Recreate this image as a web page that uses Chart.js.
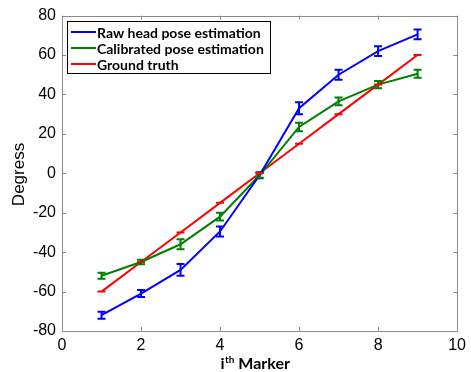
<!DOCTYPE html>
<html><head><meta charset="utf-8">
<script src="https://cdn.jsdelivr.net/npm/chart.js@4"></script>
<style>html,body{margin:0;padding:0;background:#fff}canvas{display:block}</style>
</head><body>
<canvas id="c" width="471" height="372"></canvas>
<script>
const markers = [1, 2, 3, 4, 5, 6, 7, 8, 9];
const rawHead = [-72, -61, -49, -29.5, -1, 33, 50, 62, 70.5];
const rawErr = [1.8, 1.8, 3, 2.5, 1.5, 3, 2.5, 2.5, 2.5];
const calibrated = [-52, -45, -36, -22, -1, 23.5, 36.5, 45, 50.5];
const calErr = [1.5, 1.2, 2.5, 2, 1.2, 2.2, 2, 1.8, 2];
const groundTruth = [-60, -45, -30, -15, 0, 15, 30, 45, 60];
const gtErr = [0, 0, 0, 0, 0, 0, 0, 0, 0];
const xTicks = [0, 2, 4, 6, 8, 10];
const yTicks = [-80, -60, -40, -20, 0, 20, 40, 60, 80];
const seriesNames = ['Raw head pose estimation', 'Calibrated pose estimation', 'Ground truth'];
const seriesColors = ['#0000ff', '#008000', '#ff0000'];
const yTitle = 'Degress';
const xTitle = ['i', 'th', ' Marker'];

const pts = arr => markers.map((m, i) => ({x: m, y: arr[i]}));
const errs = [rawErr, calErr, gtErr];

const errorBars = {
  id: 'errorBars',
  afterDatasetsDraw(chart) {
    const ctx = chart.ctx, xs = chart.scales.x, ys = chart.scales.y;
    chart.data.datasets.forEach((ds, di) => {
      ctx.save();
      ctx.strokeStyle = ds.borderColor; ctx.lineWidth = 2;
      ds.data.forEach((p, i) => {
        const e = errs[di][i];
        const px = xs.getPixelForValue(p.x);
        const top = ys.getPixelForValue(p.y + e), bot = ys.getPixelForValue(p.y - e);
        ctx.beginPath();
        ctx.moveTo(px, top); ctx.lineTo(px, bot);
        ctx.moveTo(px - 4, top); ctx.lineTo(px + 4, top);
        ctx.moveTo(px - 4, bot); ctx.lineTo(px + 4, bot);
        ctx.stroke();
      });
      ctx.restore();
    });
  }
};

const boxAndLegend = {
  id: 'boxAndLegend',
  afterDraw(chart) {
    const ctx = chart.ctx, a = chart.chartArea, xs = chart.scales.x, ys = chart.scales.y;
    ctx.save();
    ctx.strokeStyle = '#8a8a8a'; ctx.lineWidth = 1;
    ctx.strokeRect(Math.round(a.left) + 0.5, Math.round(a.top) + 0.5, Math.round(a.right - a.left), Math.round(a.bottom - a.top));
    ctx.beginPath();
    xTicks.forEach(t => {
      const px = Math.round(xs.getPixelForValue(t)) + 0.5;
      ctx.moveTo(px, a.bottom); ctx.lineTo(px, a.bottom - 4);
      ctx.moveTo(px, a.top); ctx.lineTo(px, a.top + 4);
    });
    yTicks.forEach(t => {
      const py = Math.round(ys.getPixelForValue(t)) + 0.5;
      ctx.moveTo(a.left, py); ctx.lineTo(a.left + 4, py);
      ctx.moveTo(a.right, py); ctx.lineTo(a.right - 4, py);
    });
    ctx.stroke();
    // legend
    const lx = 67, ly = 21, lw = 203, lh = 52;
    ctx.fillStyle = '#fff';
    ctx.fillRect(lx, ly, lw, lh);
    ctx.strokeStyle = '#000'; ctx.lineWidth = 1;
    ctx.strokeRect(lx + 0.5, ly + 0.5, lw, lh);
    ctx.font = 'bold 14px Lato, "Open Sans", sans-serif';
    ctx.textBaseline = 'middle'; ctx.fillStyle = '#000';
    seriesNames.forEach((n, i) => {
      const y = ly + 11 + i * 16;
      ctx.strokeStyle = seriesColors[i]; ctx.lineWidth = 2;
      ctx.beginPath(); ctx.moveTo(lx + 4, y); ctx.lineTo(lx + 29, y); ctx.stroke();
      ctx.fillText(n, lx + 30, y + 1);
    });
    // y title
    ctx.save();
    ctx.translate(24, 174.5);
    ctx.rotate(-Math.PI / 2);
    ctx.font = '17px "Liberation Sans", Arial, sans-serif';
    ctx.textAlign = 'center'; ctx.textBaseline = 'alphabetic';
    ctx.fillText(yTitle, 0, 0);
    ctx.restore();
    // x title with superscript
    const big = 'bold 16px Lato, sans-serif', small = 'bold 10px Lato, sans-serif';
    ctx.textBaseline = 'alphabetic'; ctx.textAlign = 'left';
    ctx.font = big; const w0 = ctx.measureText(xTitle[0]).width, w2 = ctx.measureText(xTitle[2]).width;
    ctx.font = small; const w1 = ctx.measureText(xTitle[1]).width;
    let x0 = 255 - (w0 + w1 + w2) / 2; const by = 369;
    ctx.font = big; ctx.fillText(xTitle[0], x0, by);
    ctx.font = small; ctx.fillText(xTitle[1], x0 + w0 + 0.5, by - 6);
    ctx.font = big; ctx.fillText(xTitle[2], x0 + w0 + w1 + 0.5, by);
    ctx.restore();
  }
};

new Chart(document.getElementById('c'), {
  type: 'line',
  data: {
    datasets: [
      {label: seriesNames[0], data: pts(rawHead), borderColor: seriesColors[0], backgroundColor: seriesColors[0], borderWidth: 2, pointRadius: 0, tension: 0},
      {label: seriesNames[1], data: pts(calibrated), borderColor: seriesColors[1], backgroundColor: seriesColors[1], borderWidth: 2, pointRadius: 0, tension: 0},
      {label: seriesNames[2], data: pts(groundTruth), borderColor: seriesColors[2], backgroundColor: seriesColors[2], borderWidth: 2, pointRadius: 0, tension: 0}
    ]
  },
  options: {
    responsive: false, animation: false, devicePixelRatio: 1,
    layout: {padding: {top: 15, right: 10, left: 0, bottom: 0}},
    plugins: {legend: {display: false}, tooltip: {enabled: false}},
    scales: {
      x: {
        type: 'linear', min: 0, max: 10,
        afterBuildTicks: s => { s.ticks = xTicks.map(v => ({value: v})); },
        afterFit: s => { s.height = 41; },
        grid: {display: false, drawTicks: false}, border: {display: false},
        ticks: {color: '#000', font: {family: 'Liberation Sans, Arial', size: 16}, padding: 5, maxRotation: 0}
      },
      y: {
        type: 'linear', min: -80, max: 80,
        afterBuildTicks: s => { s.ticks = yTicks.map(v => ({value: v})); },
        afterFit: s => { s.width = 62; },
        grid: {display: false, drawTicks: false}, border: {display: false},
        ticks: {color: '#000', font: {family: 'Liberation Sans, Arial', size: 16}, padding: 6}
      }
    }
  },
  plugins: [errorBars, boxAndLegend]
});
</script>
</body></html>
